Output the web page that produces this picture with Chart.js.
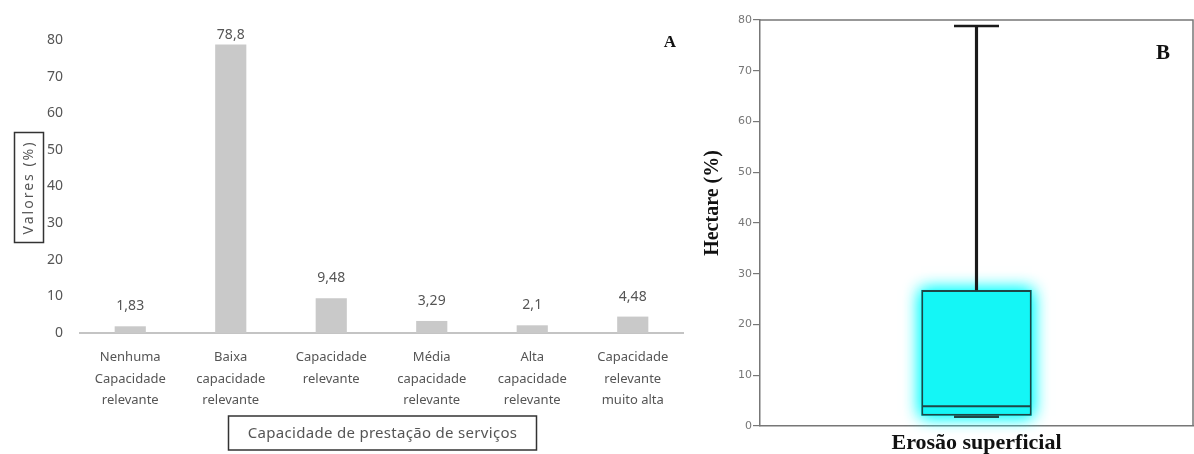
<!DOCTYPE html>
<html>
<head>
<meta charset="utf-8">
<script src="https://cdn.jsdelivr.net/npm/chart.js@4"></script>
<style>
  body { margin: 0; background: #fff; }
  #wrapA { position: absolute; left: 0; top: 0; width: 690px; height: 454px; }
  #wrapB { position: absolute; left: 690px; top: 0; width: 504px; height: 454px; }
</style>
</head>
<body>
<div id="wrapA"><canvas id="chartA"></canvas></div>
<div id="wrapB"><canvas id="chartB"></canvas></div>
<script>
// grafico A - capacidade de prestacao de servicos
var categorias = [
  ['Nenhuma', 'Capacidade', 'relevante'],
  ['Baixa', 'capacidade', 'relevante'],
  ['Capacidade', 'relevante'],
  ['Média', 'capacidade', 'relevante'],
  ['Alta', 'capacidade', 'relevante'],
  ['Capacidade', 'relevante', 'muito alta']
];
var valores = [1.83, 78.8, 9.48, 3.29, 2.1, 4.48];
var ticksA = [0, 10, 20, 30, 40, 50, 60, 70, 80];

// grafico B - boxplot erosao superficial
var categoriaB = ['Erosão superficial'];
var boxMin = [1.83];
var boxQ1 = [2.03];
var boxMediana = [3.885];
var boxQ3 = [26.81];
var boxMax = [78.8];
var ticksB = [0, 10, 20, 30, 40, 50, 60, 70, 80];

Chart.defaults.animation = false;
Chart.defaults.plugins.legend.display = false;
Chart.defaults.plugins.tooltip.enabled = false;

var cinza = '#555';

// rotulos em cima das barras + titulos com caixa
var rotulosPlugin = {
  id: 'rotulos',
  afterDatasetsDraw: function (chart) {
    var ctx = chart.ctx;
    var meta = chart.getDatasetMeta(0);
    ctx.save();
    ctx.font = '14px "Noto Sans"';
    ctx.fillStyle = cinza;
    ctx.textAlign = 'center';
    ctx.textBaseline = 'middle';
    meta.data.forEach(function (bar, i) {
      var txt = String(valores[i]).replace('.', ',');
      ctx.fillText(txt, bar.x, Math.max(bar.y - 20, 35));
    });
    ctx.restore();
  },
  afterDraw: function (chart) {
    var ctx = chart.ctx;
    var a = chart.chartArea;
    ctx.save();
    ctx.fillStyle = cinza;
    ctx.strokeStyle = '#333';
    ctx.lineWidth = 1.5;
    ctx.textAlign = 'center';
    ctx.textBaseline = 'middle';
    // titulo eixo x
    ctx.font = '15px "Noto Sans"';
    ctx.letterSpacing = '0.3px';
    var cx = (a.left + a.right) / 2 + 1;
    ctx.fillText('Capacidade de prestação de serviços', cx, 434);
    ctx.strokeRect(cx - 154, 416, 308, 34);
    // titulo eixo y
    ctx.font = '14px "Noto Sans"';
    ctx.letterSpacing = '2px';
    var cy = (a.top + a.bottom) / 2 + 1;
    ctx.translate(29, cy);
    ctx.rotate(-Math.PI / 2);
    ctx.fillText('Valores (%)', 0, 0);
    ctx.strokeRect(-55, -14.5, 110, 29);
    ctx.restore();
    // letra A
    ctx.save();
    ctx.font = 'bold 17px "Liberation Serif"';
    ctx.fillStyle = '#111';
    ctx.textAlign = 'center';
    ctx.textBaseline = 'middle';
    ctx.fillText('A', 670, 43);
    ctx.restore();
  }
};

new Chart(document.getElementById('chartA'), {
  type: 'bar',
  data: {
    labels: categorias,
    datasets: [{
      data: valores,
      backgroundColor: '#c9c9c9',
      borderWidth: 0,
      categoryPercentage: 1,
      barPercentage: 0.31
    }]
  },
  options: {
    responsive: true,
    maintainAspectRatio: false,
    layout: { padding: { left: 0, right: 7, top: 40, bottom: 0 } },
    scales: {
      x: {
        grid: { display: false, drawTicks: false },
        border: { display: true, color: '#c4c4c4', width: 2 },
        ticks: {
          color: cinza,
          font: { family: 'Noto Sans', size: 13, lineHeight: 1.65 },
          padding: 14,
          maxRotation: 0,
          autoSkip: false
        },
        afterFit: function (s) { s.height = 121; }
      },
      y: {
        min: 0,
        max: 80,
        afterBuildTicks: function (s) { s.ticks = ticksA.map(function (v) { return { value: v }; }); },
        grid: { display: false, drawTicks: false },
        border: { display: false },
        ticks: {
          color: cinza,
          font: { family: 'Noto Sans', size: 14 },
          padding: 17
        },
        afterFit: function (s) { s.width = 80; }
      }
    }
  },
  plugins: [rotulosPlugin]
});

// moldura, brilho da caixa, titulo do eixo y e letra B
var boxPlugin = {
  id: 'boxExtras',
  beforeDatasetDraw: function (chart, args) {
    if (args.index !== 0) return;
    // brilho ciano em volta da caixa
    var bar = chart.getDatasetMeta(0).data[0];
    var p = bar.getProps(['x', 'y', 'base', 'width'], true);
    var ctx = chart.ctx;
    ctx.save();
    ctx.shadowColor = 'rgba(0,255,255,0.9)';
    ctx.shadowBlur = 16;
    ctx.fillStyle = '#14f6f6';
    ctx.fillRect(p.x - p.width / 2, Math.min(p.y, p.base), p.width, Math.abs(p.base - p.y));
    ctx.fillRect(p.x - p.width / 2, Math.min(p.y, p.base), p.width, Math.abs(p.base - p.y));
    ctx.restore();
  },
  afterDraw: function (chart) {
    var ctx = chart.ctx;
    var a = chart.chartArea;
    ctx.save();
    ctx.strokeStyle = '#777';
    ctx.lineWidth = 1.5;
    ctx.beginPath();
    ctx.moveTo(a.left, a.top);
    ctx.lineTo(a.right, a.top);
    ctx.lineTo(a.right, a.bottom);
    ctx.stroke();
    ctx.fillStyle = '#111';
    ctx.textAlign = 'center';
    ctx.textBaseline = 'middle';
    ctx.font = 'bold 21px "Liberation Serif"';
    ctx.fillText('B', 473, 54);
    ctx.font = 'bold 20px "Liberation Serif"';
    ctx.translate(23, 203);
    ctx.rotate(-Math.PI / 2);
    ctx.fillText('Hectare (%)', 0, 0);
    ctx.restore();
  }
};

new Chart(document.getElementById('chartB'), {
  type: 'bar',
  data: {
    labels: categoriaB,
    datasets: [
      {
        // caixa Q1-Q3
        data: boxQ1.map(function (q, i) { return [q, boxQ3[i]]; }),
        backgroundColor: '#14f6f6',
        borderColor: '#1e4646',
        borderWidth: 2,
        borderSkipped: false,
        categoryPercentage: 1,
        barPercentage: 0.255,
        grouped: false,
        order: 2
      },
      {
        // bigode superior
        data: boxQ3.map(function (q, i) { return [q, boxMax[i]]; }),
        backgroundColor: '#1a1a1a',
        barThickness: 2.5,
        grouped: false,
        order: 1
      },
      {
        // bigode inferior
        data: boxMin.map(function (m, i) { return [m, boxQ1[i]]; }),
        backgroundColor: '#1a1a1a',
        barThickness: 2.5,
        grouped: false,
        order: 3
      },
      {
        type: 'line',
        data: boxMax,
        showLine: false,
        pointStyle: 'line',
        pointRadius: 22.5,
        pointBorderColor: '#1a1a1a',
        pointBorderWidth: 2.5,
        order: 1
      },
      {
        type: 'line',
        data: boxMin,
        showLine: false,
        pointStyle: 'line',
        pointRadius: 22.5,
        pointBorderColor: '#1e4646',
        pointBorderWidth: 2.5,
        order: 1
      },
      {
        type: 'line',
        data: boxMediana,
        showLine: false,
        pointStyle: 'line',
        pointRadius: 54,
        pointBorderColor: '#1e4646',
        pointBorderWidth: 2,
        order: 0
      }
    ]
  },
  options: {
    responsive: true,
    maintainAspectRatio: false,
    layout: { autoPadding: false, padding: { left: 0, right: 1, top: 20, bottom: 0 } },
    scales: {
      x: {
        grid: { display: false, drawTicks: false },
        border: { display: true, color: '#777', width: 1.5 },
        ticks: {
          color: '#111',
          font: { family: 'Liberation Serif', size: 22, weight: 'bold' },
          padding: 4
        },
        afterFit: function (s) { s.height = 28; }
      },
      y: {
        min: 0,
        max: 80,
        afterBuildTicks: function (s) { s.ticks = ticksB.map(function (v) { return { value: v }; }); },
        grid: { drawOnChartArea: false, drawTicks: true, tickLength: 7, color: '#777', lineWidth: 1.2 },
        border: { display: true, color: '#777', width: 1.5 },
        ticks: {
          color: '#777',
          font: { family: 'DejaVu Sans', size: 11 },
          padding: 1
        },
        afterFit: function (s) { s.width = 70; }
      }
    }
  },
  plugins: [boxPlugin]
});
</script>
</body>
</html>
